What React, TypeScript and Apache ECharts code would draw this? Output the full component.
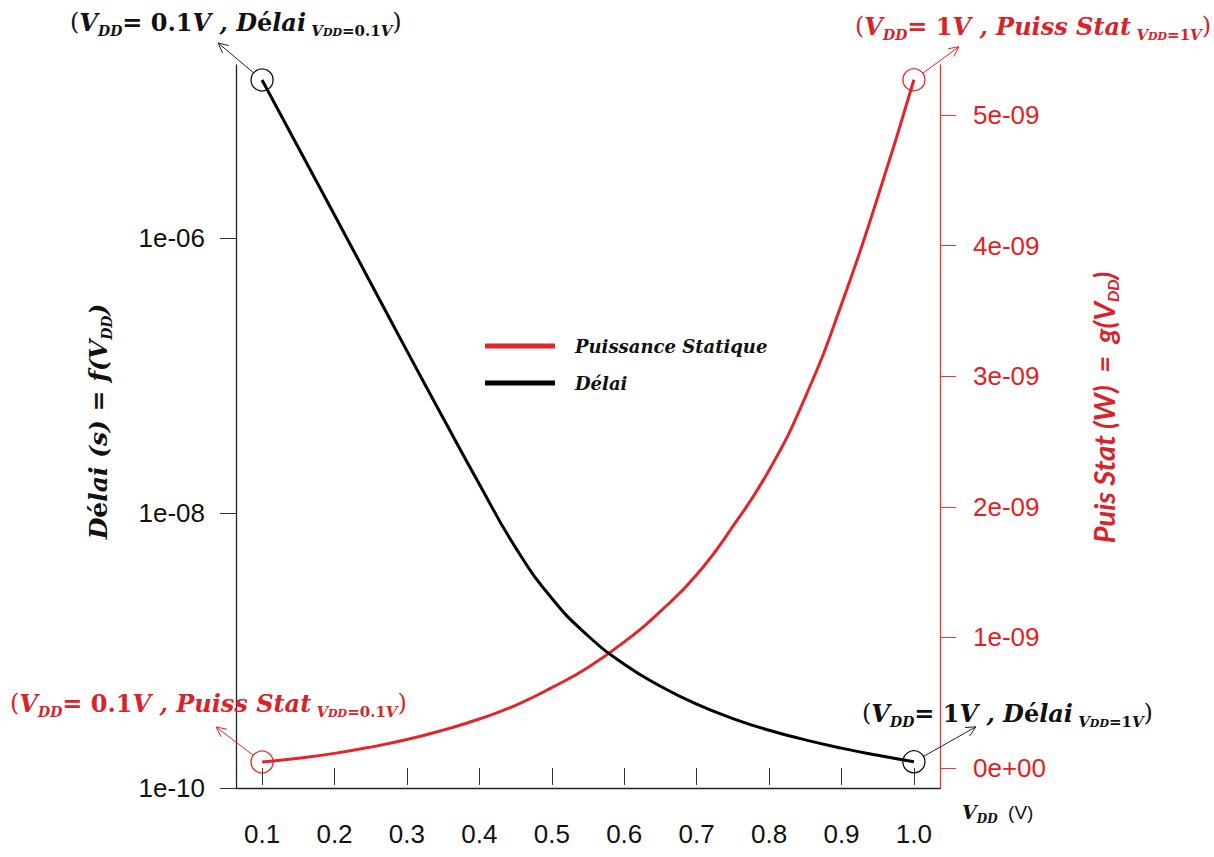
import React, { useEffect, useRef } from "react";
import * as echarts from "echarts";

// ---- data ----
const delayVdd = [0.1, 0.15, 0.2, 0.25, 0.3, 0.35, 0.4, 0.45, 0.5, 0.55, 0.6, 0.65, 0.7, 0.75, 0.8, 0.85, 0.9, 0.95, 1.0];
const delaySeconds = [
  1.41e-5, 4.55e-6, 1.47e-6, 4.71e-7, 1.51e-7, 4.9e-8, 1.62e-8, 5.6e-9, 2.4e-9, 1.28e-9,
  7.94e-10, 5.5e-10, 4.07e-10, 3.2e-10, 2.63e-10, 2.24e-10, 1.95e-10, 1.73e-10, 1.55e-10,
];
const powerVdd = [0.1, 0.15, 0.2, 0.25, 0.3, 0.35, 0.4, 0.45, 0.5, 0.55, 0.6, 0.65, 0.7, 0.75, 0.8, 0.85, 0.9, 0.95, 1.0];
const powerWatts = [
  4.6e-11, 7.5e-11, 1.12e-10, 1.6e-10, 2.18e-10, 2.9e-10, 3.75e-10, 4.8e-10, 6.15e-10, 7.7e-10,
  9.65e-10, 1.2e-9, 1.48e-9, 1.85e-9, 2.28e-9, 2.84e-9, 3.55e-9, 4.37e-9, 5.27e-9,
];
const xTickValues = [0.1, 0.2, 0.3, 0.4, 0.5, 0.6, 0.7, 0.8, 0.9, 1.0];
const delayTickValues = [1e-10, 1e-8, 1e-6];
const powerTickValues = [0, 1e-9, 2e-9, 3e-9, 4e-9, 5e-9];
const seriesNames = ["Puissance Statique", "Délai"];

const RED = "#e3242b";
const RED_TXT = "#d8232a";
const BLACK = "#111111";
const SERIF = "'DejaVu Serif', 'Liberation Serif', serif";
const SANS = "'Liberation Sans', Arial, sans-serif";
const LATO = "Lato, 'Open Sans', sans-serif";

function richFor(color: string) {
  return {
    p: { fill: color, color, fontFamily: SERIF, fontSize: 24, fontWeight: "normal", fontStyle: "normal", lineHeight: 32 },
    b: { fill: color, color, fontFamily: SERIF, fontSize: 24, fontWeight: "bold", fontStyle: "italic", lineHeight: 32 },
    n: { fill: color, color, fontFamily: SERIF, fontSize: 24, fontWeight: "bold", fontStyle: "normal", lineHeight: 32 },
    e: { fill: color, color, fontFamily: SERIF, fontSize: 24, fontWeight: "bold", fontStyle: "normal", lineHeight: 32 },
    d: { fill: color, color, fontFamily: SERIF, fontSize: 14, fontWeight: "bold", fontStyle: "italic", lineHeight: 14, verticalAlign: "bottom" },
    s: { fill: color, color, fontFamily: SERIF, fontSize: 15, fontWeight: "bold", fontStyle: "italic", lineHeight: 15, verticalAlign: "bottom" },
    ss: { fill: color, color, fontFamily: SERIF, fontSize: 11, fontWeight: "bold", fontStyle: "italic", lineHeight: 11, verticalAlign: "bottom" },
    st: { fill: color, color, fontFamily: SERIF, fontSize: 15, fontWeight: "bold", fontStyle: "normal", lineHeight: 15, verticalAlign: "bottom" },
  };
}

export default function App() {
  const ref = useRef<HTMLDivElement>(null);

  useEffect(() => {
    document.body.style.margin = "0";
    if (!ref.current) return;
    const chart = echarts.init(ref.current, undefined, { renderer: "svg" });

    const endSymbol = (color: string) => ({
      symbol: "circle",
      symbolSize: 22,
      itemStyle: { color: "rgba(0,0,0,0)", borderColor: color, borderWidth: 1.3 },
    });

    const delayData = delayVdd.map((v, i) => {
      const item: any = { value: [v, Math.log10(delaySeconds[i])] };
      if (i === 0 || i === delayVdd.length - 1) Object.assign(item, endSymbol(BLACK));
      return item;
    });
    const powerData = powerVdd.map((v, i) => {
      const item: any = { value: [v, powerWatts[i]] };
      if (i === 0 || i === powerVdd.length - 1) Object.assign(item, endSymbol(RED));
      return item;
    });

    const axisNameRichL = {
      b: { color: BLACK, fontFamily: SERIF, fontSize: 25, fontWeight: "bold", fontStyle: "italic", lineHeight: 32 },
      e: { color: BLACK, fontFamily: SERIF, fontSize: 25, fontWeight: "bold", fontStyle: "normal", lineHeight: 32 },
      d: { color: BLACK, fontFamily: SERIF, fontSize: 14, fontWeight: "bold", fontStyle: "italic", lineHeight: 14, verticalAlign: "bottom" },
    };
    const axisNameRichR = {
      b: { color: RED_TXT, fontFamily: LATO, fontSize: 29, fontWeight: "bold", fontStyle: "italic", lineHeight: 34 },
      d: { color: RED_TXT, fontFamily: LATO, fontSize: 16, fontWeight: "bold", fontStyle: "italic", lineHeight: 16, verticalAlign: "bottom" },
    };

    const option: any = {
      animation: false,
      backgroundColor: "#ffffff",
      grid: { left: 236, right: 274, top: 65, bottom: 69, containLabel: false },
      legend: {
        data: seriesNames,
        orient: "vertical",
        left: 480,
        top: 332,
        icon: "rect",
        itemWidth: 70,
        itemHeight: 5,
        itemGap: 19,
        textStyle: {
          color: BLACK,
          fontFamily: SERIF,
          fontSize: 18,
          fontWeight: "bold",
          fontStyle: "italic",
          padding: [0, 0, 0, 15],
        },
      },
      xAxis: [
        {
          type: "value",
          min: 0.064,
          max: 1.036,
          position: "bottom",
          offset: 5,
          axisLine: { show: false },
          axisTick: { show: true, customValues: xTickValues, length: 17, lineStyle: { color: "#333", width: 1 } },
          axisLabel: {
            customValues: xTickValues,
            margin: 28,
            fontSize: 26,
            fontFamily: SANS,
            color: BLACK,
            formatter: (v: number) => v.toFixed(1),
          },
          splitLine: { show: false },
        },
        {
          type: "value",
          min: 0.064,
          max: 1.036,
          position: "bottom",
          offset: 0,
          axisLine: { show: true, lineStyle: { color: "#222", width: 1.3 } },
          axisTick: { show: false },
          axisLabel: { show: false },
          splitLine: { show: false },
        },
      ],
      yAxis: [
        {
          type: "value",
          position: "left",
          min: -10,
          max: -4.742,
          axisLine: { show: true, lineStyle: { color: "#222", width: 1.3 } },
          axisTick: { show: true, customValues: delayTickValues.map((t) => Math.log10(t)), length: 16, lineStyle: { color: "#333" } },
          axisLabel: {
            customValues: delayTickValues.map((t) => Math.log10(t)),
            margin: 31,
            fontSize: 26,
            fontFamily: SANS,
            color: BLACK,
            formatter: (v: number) => "1e-" + String(Math.round(-v)).padStart(2, "0"),
          },
          splitLine: { show: false },
          name: "{b|D}{e|é}{b|lai (s) = f(V}{d|DD}{b|)}",
          nameLocation: "middle",
          nameRotate: 90,
          nameGap: 122,
          nameTextStyle: { rich: axisNameRichL, padding: [0, 0, 0, 10] },
        },
        {
          type: "value",
          position: "right",
          min: -1.531e-10,
          max: 5.383e-9,
          axisLine: { show: true, lineStyle: { color: "#e8373d", width: 1.3 } },
          axisTick: { show: true, customValues: powerTickValues, length: 16, lineStyle: { color: "#e8373d" } },
          axisLabel: {
            customValues: powerTickValues,
            margin: 33,
            fontSize: 26,
            fontFamily: SANS,
            color: "#e31e24",
            formatter: (v: number) => {
              const k = Math.round(v * 1e9);
              return k === 0 ? "0e+00" : k + "e-09";
            },
          },
          splitLine: { show: false },
          name: "{b|Puis Stat (W)  =  g(V}{d|DD}{b|)}",
          nameLocation: "middle",
          nameRotate: 90,
          nameGap: 146,
          nameTextStyle: { rich: axisNameRichR, padding: [0, 0, 0, 38] },
        },
      ],
      series: [
        {
          name: seriesNames[0],
          type: "line",
          xAxisIndex: 0,
          yAxisIndex: 1,
          data: powerData,
          smooth: true,
          symbol: "none",
          showSymbol: true,
          lineStyle: { color: RED, width: 3 },
          itemStyle: { color: RED },
          emphasis: { disabled: true },
          z: 3,
        },
        {
          name: seriesNames[1],
          type: "line",
          xAxisIndex: 0,
          yAxisIndex: 0,
          data: delayData,
          smooth: true,
          symbol: "none",
          showSymbol: true,
          lineStyle: { color: "#000", width: 3 },
          itemStyle: { color: "#000" },
          emphasis: { disabled: true },
          z: 4,
        },
      ],
    };

    chart.setOption(option);

    // annotations anchored on the series end points
    const pDelayStart = chart.convertToPixel({ xAxisIndex: 0, yAxisIndex: 0 }, [delayVdd[0], Math.log10(delaySeconds[0])]) as number[];
    const pDelayEnd = chart.convertToPixel({ xAxisIndex: 0, yAxisIndex: 0 }, [delayVdd[delayVdd.length - 1], Math.log10(delaySeconds[delaySeconds.length - 1])]) as number[];
    const pPowStart = chart.convertToPixel({ xAxisIndex: 0, yAxisIndex: 1 }, [powerVdd[0], powerWatts[0]]) as number[];
    const pPowEnd = chart.convertToPixel({ xAxisIndex: 0, yAxisIndex: 1 }, [powerVdd[powerVdd.length - 1], powerWatts[powerWatts.length - 1]]) as number[];

    const arrow = (c: number[], dx: number, dy: number, color: string) => {
      const len = Math.sqrt(dx * dx + dy * dy);
      const ux = dx / len;
      const uy = dy / len;
      const sx = c[0] + ux * 11;
      const sy = c[1] + uy * 11;
      const tx = c[0] + dx;
      const ty = c[1] + dy;
      const ang = Math.atan2(-uy, -ux);
      const h = 11;
      const a1 = ang + 0.45;
      const a2 = ang - 0.45;
      return [
        { type: "line", shape: { x1: sx, y1: sy, x2: tx, y2: ty }, style: { stroke: color, lineWidth: 1 }, z: 10 },
        {
          type: "polyline",
          shape: { points: [[tx + h * Math.cos(a1), ty + h * Math.sin(a1)], [tx, ty], [tx + h * Math.cos(a2), ty + h * Math.sin(a2)]] },
          style: { stroke: color, lineWidth: 1, fill: null },
          z: 10,
        },
      ];
    };

    const label = (x: number, y: number, text: string, color: string) => ({
      type: "text",
      x,
      y,
      z: 9,
      style: { text, rich: richFor(color), fill: color, align: "left", verticalAlign: "middle" },
    });

    const graphic: any[] = [
      ...arrow(pDelayStart, -44, -37, "#222"),
      ...arrow(pPowEnd, 45, -33, RED),
      ...arrow(pPowStart, -46, -35, RED),
      ...arrow(pDelayEnd, 62, -35, "#222"),
      label(70, 22, "{p|(}{b|V}{d|DD}{n|= 0.1}{b|V , D}{e|é}{b|lai}{s| V}{ss|DD}{st|=0.1}{s|V}{p|)}", BLACK),
      label(855, 26, "{p|(}{b|V}{d|DD}{n|= 1}{b|V , Puiss Stat}{s| V}{ss|DD}{st|=1}{s|V}{p|)}", RED_TXT),
      label(10, 703, "{p|(}{b|V}{d|DD}{n|= 0.1}{b|V , Puiss Stat}{s| V}{ss|DD}{st|=0.1}{s|V}{p|)}", RED_TXT),
      label(862, 713, "{p|(}{b|V}{d|DD}{n|= 1}{b|V , D}{e|é}{b|lai}{s| V}{ss|DD}{st|=1}{s|V}{p|)}", BLACK),
      {
        type: "text",
        x: 962,
        y: 812,
        z: 9,
        style: {
          text: "{b|V}{d|DD}{a|  (V)}",
          rich: {
            b: { fill: BLACK, fontFamily: SERIF, fontSize: 19, fontWeight: "bold", fontStyle: "italic", lineHeight: 26 },
            d: { fill: BLACK, fontFamily: SERIF, fontSize: 12, fontWeight: "bold", fontStyle: "italic", lineHeight: 12, verticalAlign: "bottom" },
            a: { fill: BLACK, fontFamily: SANS, fontSize: 19, lineHeight: 26 },
          },
          fill: BLACK,
          align: "left",
          verticalAlign: "middle",
        },
      },
    ];

    chart.setOption({ graphic });

    return () => {
      chart.dispose();
    };
  }, []);

  return (
    <div
      ref={ref}
      style={{ position: "absolute", left: 0, top: 0, width: 1214, height: 857, background: "#fff" }}
    />
  );
}
